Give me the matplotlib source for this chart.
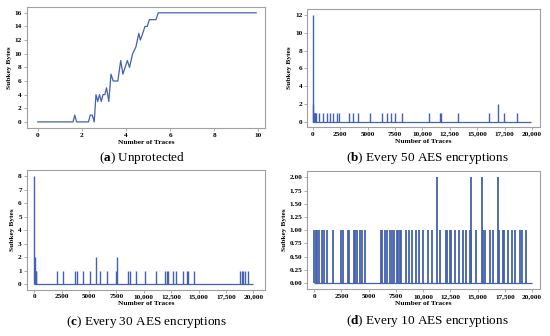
import matplotlib
matplotlib.use("Agg")
import matplotlib.pyplot as plt
from matplotlib.ticker import FuncFormatter

plt.rcParams['font.family'] = 'Liberation Serif'
plt.rcParams['mathtext.fontset'] = 'custom'
plt.rcParams['mathtext.rm'] = 'Liberation Serif'
plt.rcParams['mathtext.bf'] = 'Liberation Serif:bold'

# (a) unprotected: recovered subkey bytes vs number of traces
a_x = [0, 1.6, 1.68, 1.76, 2.3, 2.38, 2.47, 2.56, 2.64, 2.72, 2.8, 2.88, 2.96,
       3.04, 3.12, 3.22, 3.32, 3.42, 3.63, 3.76, 3.86, 3.96, 4.06, 4.16, 4.3,
       4.45, 4.58, 4.65, 4.76, 4.86, 4.96, 5.06, 5.36, 5.46, 9.9]
a_y = [0, 0, 1, 0, 0, 1, 1, 0, 4, 3, 4, 3, 4,
       4, 5, 3, 7, 6, 6, 9, 7, 8, 9, 8, 10,
       11, 13, 12, 13, 14, 14, 15, 15, 16, 16]

# (b) every 50 AES encryptions
b_pos = [0, 50, 100, 150, 200, 250, 300, 600, 910, 1280, 1580, 1890, 2230, 2410,
         3350, 3720, 4160, 5230, 6360, 6800, 7110, 7480, 8160, 10570, 11570,
         11660, 13290, 16070, 16920, 17430, 18640]
b_h = [12, 2, 1, 1, 1, 1, 1, 1, 1, 1, 1, 1, 1, 1,
       1, 1, 1, 1, 1, 1, 1, 1, 1, 1, 1,
       1, 1, 1, 2, 1, 1]

# (c) every 30 AES encryptions
c_pos = [0, 50, 100, 150, 200, 2050, 2650, 3700, 3920, 4480, 5090, 5650, 6000,
         6640, 7430, 7560, 8600, 8780, 9300, 10150, 11080, 11930, 12080, 12200,
         12700, 12900, 13560, 13930, 14080, 14580, 18760, 18950, 19100, 19250,
         19550]
c_h = [8, 2, 1, 1, 1, 1, 1, 1, 1, 1, 1, 2, 1,
       1, 1, 2, 1, 1, 1, 1, 1, 1, 1, 1,
       1, 1, 1, 1, 1, 1, 1, 1, 1, 1,
       1]

# (d) every 10 AES encryptions
d_pos = [0, 120, 280, 430, 670, 890, 1130, 1740, 2450, 2660, 3060, 3180, 3610,
         3730, 3910, 4190, 4400, 4650, 6120, 6240, 6480, 6670, 6940, 7100, 7310,
         7580, 7710, 7890, 7950, 8380, 8690, 8930, 9300, 9600, 10000, 10460,
         10770, 11230, 11530, 12080, 12200, 12450, 12600, 12900, 13270, 13670,
         13980, 14280, 14380, 14430, 14830, 15410, 15500, 15720, 16180, 16420,
         16830, 16940, 17340, 17430, 17800, 18170, 18470, 18870, 19080, 19480]
d_h = [1, 1, 1, 1, 1, 1, 1, 1, 1, 1, 1, 1, 1,
       1, 1, 1, 1, 1, 1, 1, 1, 1, 1, 1, 1,
       1, 1, 1, 1, 1, 1, 1, 1, 1, 1, 1,
       1, 2, 1, 1, 1, 1, 1, 1, 1, 1,
       1, 1, 2, 1, 1, 2, 1, 1, 1, 1,
       2, 1, 1, 1, 1, 1, 1, 1, 1, 1]

trace_range = [0, 19950]

captions = [r"($\mathbf{a}$) Unprotected",
            r"($\mathbf{b}$) Every 50 AES encryptions",
            r"($\mathbf{c}$) Every 30 AES encryptions",
            r"($\mathbf{d}$) Every 10 AES encryptions"]

col = '#4361b0'
W, H = 550, 336


def px_axes(fig, left, right, top, bottom):
    return fig.add_axes([left / W, 1 - bottom / H, (right - left) / W, (bottom - top) / H])


def style(ax, yfmt=None):
    for s in ax.spines.values():
        s.set_color('#a0a0a0')
        s.set_linewidth(0.8)
    ax.tick_params(length=2, width=0.6, color='#a0a0a0', pad=1.5, labelsize=5.2)
    for lab in ax.get_xticklabels() + ax.get_yticklabels():
        lab.set_fontweight('bold')
    ax.set_xlabel("Number of Traces", fontsize=5.3, fontweight='bold', labelpad=1.5)
    ax.set_ylabel("Subkey Bytes", fontsize=5.3, fontweight='bold', labelpad=2)


def comma(v, p):
    if v >= 10000:
        return f"{int(v):,}"
    return f"{int(v)}"


fig = plt.figure(figsize=(5.5, 3.36), dpi=100)

ax = px_axes(fig, 26.7, 265, 6.7, 127.7)
ax.plot(a_x, a_y, color=col, lw=0.9)
ax.set_xlim(-0.5, 10.3)
ax.set_ylim(-0.85, 16.9)
ax.set_xticks([0, 2, 4, 6, 8, 10])
ax.set_yticks(range(0, 17, 2))
style(ax)

ax = px_axes(fig, 307.3, 540, 9.3, 126.7)
ax.hlines(0, trace_range[0], trace_range[1], color=col, lw=0.9)
ax.vlines(b_pos, 0, b_h, color=col, lw=1.0)
ax.set_xlim(-490, 20730)
ax.set_ylim(-0.56, 12.64)
ax.set_xticks(range(0, 20001, 2500))
ax.set_yticks(range(0, 13, 2))
ax.xaxis.set_major_formatter(FuncFormatter(comma))
style(ax)

ax = px_axes(fig, 26.7, 265, 169.7, 289.5)
ax.hlines(0, trace_range[0], trace_range[1], color=col, lw=0.9)
ax.vlines(c_pos, 0, c_h, color=col, lw=1.0)
ax.set_xlim(-690, 21070)
ax.set_ylim(-0.4, 8.47)
ax.set_xticks(range(0, 20001, 2500))
ax.set_yticks(range(0, 9))
ax.xaxis.set_major_formatter(FuncFormatter(comma))
style(ax)

ax = px_axes(fig, 307.3, 540, 171, 289)
ax.hlines(0, trace_range[0], trace_range[1], color=col, lw=0.9)
ax.vlines(d_pos, 0, d_h, color=col, lw=1.3)
ax.set_xlim(-640, 20730)
ax.set_ylim(-0.11, 2.12)
ax.set_xticks(range(0, 20001, 2500))
ax.set_yticks([0, 0.25, 0.5, 0.75, 1.0, 1.25, 1.5, 1.75, 2.0])
ax.yaxis.set_major_formatter(FuncFormatter(lambda v, p: f"{v:.2f}"))
ax.xaxis.set_major_formatter(FuncFormatter(comma))
style(ax)

cap_xy = [(142, 158), (427, 158), (147, 322), (427, 321)]
for txt, (cx, cy) in zip(captions, cap_xy):
    fig.text(cx / W, 1 - cy / H, txt, ha='center', va='center', fontsize=9.5)

fig.savefig("out.png", dpi=100)
